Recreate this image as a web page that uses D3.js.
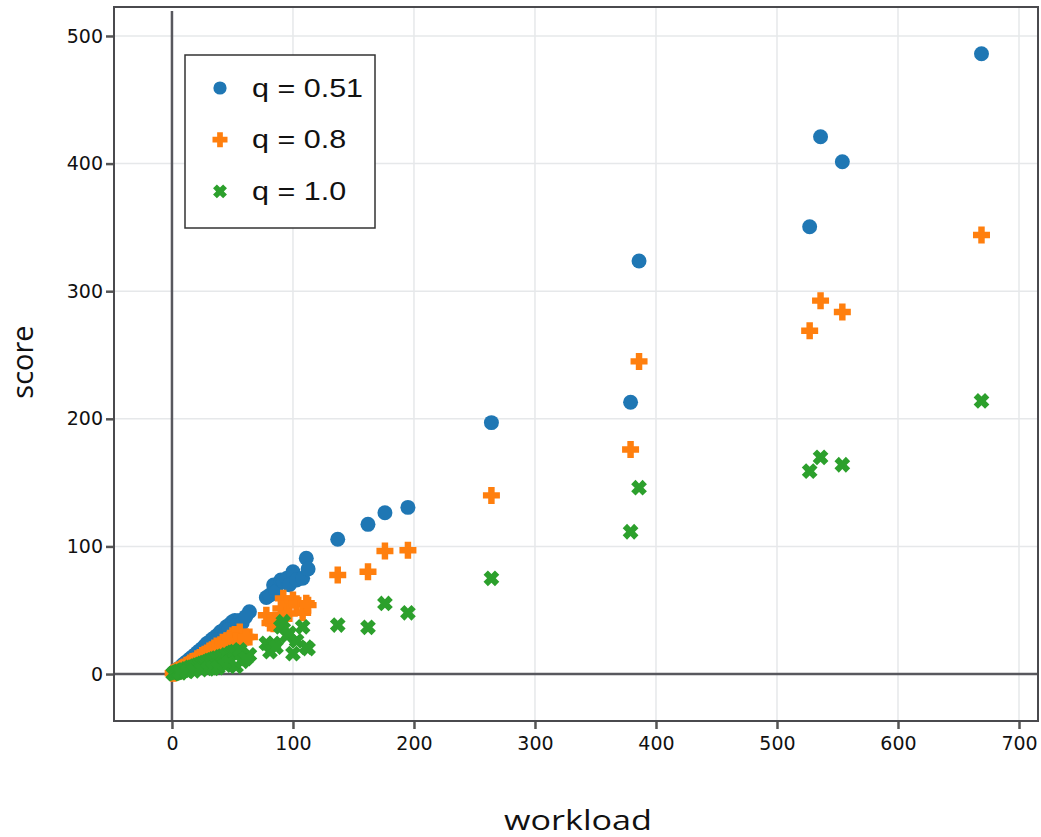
<!DOCTYPE html>
<html>
<head>
<meta charset="utf-8">
<script src="https://cdn.jsdelivr.net/npm/d3@7"></script>
<style>
  body { margin: 0; background: #fff; }
  svg { display: block; }
</style>
</head>
<body>
<div id="chart"></div>
<script>
// shared workload values (x) and the score of each q setting
const workload = [1, 2, 3, 4, 5, 6, 8, 9, 10, 12, 14, 15, 17, 19, 21, 23, 25, 27, 29, 31,
  33, 35, 37, 40, 42, 45, 48, 50, 52, 56, 64, 78, 81, 84, 86, 90, 92, 95, 97, 100,
  103, 108, 111, 112.5, 137, 162, 176, 195, 264, 379, 386, 527, 536, 554, 669,
  7, 13, 18, 24, 30, 34, 38, 44, 47, 53, 58, 61];
const scoreQ051 = [0.8, 1.5, 2.4, 3, 3.9, 4.6, 6.3, 7, 8, 9.6, 11, 12, 13.5, 15, 16.8, 18.5, 20, 22, 24, 25,
  27, 28.5, 30, 33, 34, 37, 39, 41, 42, 42, 48.8, 60, 62, 69.7, 64.5, 73.7, 72.3, 75, 70, 80.2,
  73.7, 75, 90.7, 82.3, 105.6, 117.3, 126.4, 130.6, 197, 213, 323.7, 350.5, 421, 401.5, 486,
  4.5, 9, 12, 17, 21, 24, 27, 31, 35, 38, 40, 45];
const scoreQ08 = [0.6, 1.1, 1.6, 2.2, 2.8, 3.3, 4.4, 5, 5.5, 6.8, 7.5, 8.6, 9.8, 10.3, 12, 13, 14.5, 15.6, 16.5, 18,
  19, 20.5, 22, 23, 25, 26, 28, 30, 31, 33, 29, 46, 40, 39.5, 42, 51.4, 59.3, 55, 47.5, 58,
  55, 48, 55.4, 54, 77.6, 80.2, 96.4, 97, 140, 176, 245, 269, 292.6, 283.7, 344,
  2.5, 5, 7, 10, 12, 14, 17, 21, 24, 26, 25, 29];
const scoreQ10 = [0.3, 0.6, 1, 1.3, 1.6, 2, 2.5, 3.1, 3, 4, 4.3, 5.2, 5.5, 6.2, 7, 7.5, 8.3, 9, 9.6, 10.5,
  11, 11.8, 12.5, 13.5, 14, 15, 16, 17, 17.5, 19, 15, 24, 17.5, 24, 21, 37, 41, 30, 32, 16,
  26, 37, 21, 20, 38.4, 36.6, 55.3, 48, 75, 111.5, 146, 159, 169.8, 164, 214,
  1, 2, 2.5, 3.5, 4, 4.5, 5, 7, 9, 6, 10, 12];

const seriesNames = ["q = 0.51", "q = 0.8", "q = 1.0"];
const seriesColors = ["#1f77b4", "#ff7f0e", "#2ca02c"];
const xTicks = [0, 100, 200, 300, 400, 500, 600, 700];
const yTicks = [0, 100, 200, 300, 400, 500];

const W = 1041, H = 837;
const pLeft = 114, pRight = 1038, pTop = 7, pBottom = 721;
const stretch = 1.22; // text in the original looks widened

const svg = d3.select("#chart").append("svg")
  .attr("width", W).attr("height", H);

const x = d3.scaleLinear().domain([-47.9, 715.7]).range([pLeft, pRight]);
const y = d3.scaleLinear().domain([-36.8, 522.7]).range([pBottom, pTop]);

// grid
const grid = svg.append("g");
grid.selectAll("line.gx").data(xTicks.filter(d => d !== 0)).join("line")
  .attr("x1", d => x(d)).attr("x2", d => x(d))
  .attr("y1", pTop).attr("y2", pBottom)
  .attr("stroke", "#e6e8ea").attr("stroke-width", 1.5);
grid.selectAll("line.gy").data(yTicks.filter(d => d !== 0)).join("line")
  .attr("y1", d => y(d)).attr("y2", d => y(d))
  .attr("x1", pLeft).attr("x2", pRight)
  .attr("stroke", "#e6e8ea").attr("stroke-width", 1.5);

// zero lines
svg.append("line")
  .attr("x1", x(0)).attr("x2", x(0)).attr("y1", pTop + 4).attr("y2", pBottom)
  .attr("stroke", "#58585e").attr("stroke-width", 2.5);
svg.append("line")
  .attr("x1", pLeft).attr("x2", pRight).attr("y1", y(0)).attr("y2", y(0))
  .attr("stroke", "#58585e").attr("stroke-width", 2.5);

// axes
const xAxis = svg.append("g").attr("transform", `translate(0,${pBottom})`)
  .call(d3.axisBottom(x).tickValues(xTicks).tickSize(8).tickPadding(8).tickFormat(d3.format("d")));
const yAxis = svg.append("g").attr("transform", `translate(${pLeft},0)`)
  .call(d3.axisLeft(y).tickValues(yTicks).tickSize(8).tickPadding(3).tickFormat(d3.format("d")));
[xAxis, yAxis].forEach(a => {
  a.select(".domain").remove();
  a.selectAll(".tick line").attr("stroke", "#555").attr("stroke-width", 2.5);
  a.selectAll(".tick text").attr("font-family", "DejaVu Sans").attr("font-size", 19).attr("fill", "#111");
});

// frame
svg.append("rect")
  .attr("x", pLeft).attr("y", pTop).attr("width", pRight - pLeft).attr("height", pBottom - pTop)
  .attr("fill", "none").attr("stroke", "#4a4a4e").attr("stroke-width", 2);

// markers
function plusPath(r) {
  const c = r * 0.38;
  return `M${c},${r}H${-c}V${c}H${-r}V${-c}H${-c}V${-r}H${c}V${-c}H${r}V${c}H${c}Z`;
}
function drawMarker(g, i, size) {
  if (i === 0) {
    g.append("circle").attr("r", size * 0.88).attr("fill", seriesColors[0]);
  } else if (i === 1) {
    g.append("path").attr("d", plusPath(size)).attr("fill", seriesColors[1]);
  } else {
    g.append("path").attr("d", plusPath(size * 0.95)).attr("transform", "rotate(45)").attr("fill", seriesColors[2]);
  }
}

const allScores = [scoreQ051, scoreQ08, scoreQ10];
const plot = svg.append("g");
allScores.forEach((scores, i) => {
  const pts = workload.map((w, k) => ({ w, s: scores[k] }));
  plot.append("g").selectAll("g").data(pts).join("g")
    .attr("transform", d => `translate(${x(d.w)},${y(d.s)})`)
    .each(function() { drawMarker(d3.select(this), i, 8.5); });
});

// legend
const legend = svg.append("g");
legend.append("rect")
  .attr("x", 185).attr("y", 55).attr("width", 190).attr("height", 173)
  .attr("fill", "#fff").attr("stroke", "#333").attr("stroke-width", 1.5);
seriesNames.forEach((name, i) => {
  const ry = 88 + i * 51.7;
  const m = legend.append("g").attr("transform", `translate(220,${ry})`);
  drawMarker(m, i, 7.5);
  legend.append("text")
    .attr("transform", `translate(252,${ry}) scale(${stretch},1)`)
    .attr("dominant-baseline", "central")
    .attr("font-family", "Liberation Sans").attr("font-size", 25)
    .attr("fill", "#111")
    .text(name);
});

// axis titles
svg.append("text")
  .attr("transform", `translate(578,830) scale(${stretch},1)`)
  .attr("text-anchor", "middle")
  .attr("font-family", "Open Sans").attr("font-size", 28).attr("fill", "#111")
  .text("workload");
svg.append("text")
  .attr("transform", "translate(33,362) rotate(-90)")
  .attr("text-anchor", "middle")
  .attr("font-family", "Open Sans").attr("font-size", 29).attr("fill", "#111")
  .text("score");
</script>
</body>
</html>
